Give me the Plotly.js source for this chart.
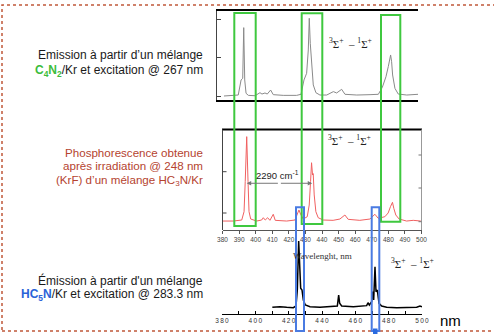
<!DOCTYPE html>
<html>
<head>
<meta charset="utf-8">
<script src="https://cdn.plot.ly/plotly-3.0.1.min.js"></script>
<style>html,body{margin:0;padding:0;background:#fff;}#chart{width:494px;height:334px;}</style>
</head>
<body>
<div id="chart"></div>
<script>
// ---- data (wavelength in nm, intensity in arbitrary units 0-100) ----
const topWave = [380.9,384.5,389.5,391.2,392.2,392.8,393.4,394.2,395.6,399.6,402.6,403.8,405.6,407.0,409.0,410.6,416.6,424.7,427.3,429.1,430.7,431.7,432.3,432.9,433.7,434.7,436.3,438.7,442.8,446.8,448.8,451.8,453.8,460.9,468.9,473.9,476.3,478.5,479.9,481.3,481.9,482.5,483.9,485.9,491.0,495.0,497.8];
const topInt  = [4.5,4.8,5.6,22.5,24.3,81.3,22.5,7.5,5.2,4.8,8.2,6.7,7.9,6.7,11.2,6.0,5.2,5.2,6.4,22.5,30.0,56.2,91.8,63.7,37.5,16.9,8.2,5.6,5.6,9.4,7.9,12.0,6.4,5.6,6.0,6.4,14.2,26.2,37.5,50.6,43.0,28.1,13.1,6.7,5.6,6.4,6.4];

const midWave = [380.1,386.5,391.6,393.0,393.7,394.6,395.4,396.0,397.0,400.6,403.6,404.6,405.8,407.2,408.6,410.6,411.8,418.7,423.7,425.1,426.1,427.1,428.7,431.1,432.3,433.1,433.7,434.3,434.7,435.3,436.3,437.7,440.7,446.7,450.8,453.8,455.8,462.8,468.9,471.9,473.9,477.9,479.9,481.3,482.5,483.3,484.5,486.5,491.0,495.0,499.6];
const midInt  = [8.9,8.9,9.9,18.2,48.0,92.7,48.0,18.2,10.9,8.9,9.9,12.2,9.9,12.2,9.6,15.6,9.6,8.9,9.9,15.6,19.9,15.6,10.9,13.2,24.8,48.0,66.8,54.6,56.0,34.8,18.2,12.2,9.9,9.6,10.9,14.9,10.6,9.6,10.9,15.6,11.6,13.2,16.9,23.2,27.5,21.5,14.9,10.9,8.9,9.6,8.9];

const botWave = [410.2,414.8,418.8,422.8,424.4,425.2,426.0,426.6,427.2,428.0,428.8,430.0,432.8,438.8,444.8,449.2,450.0,450.6,451.8,458.8,466.8,467.6,468.4,469.8,470.4,471.0,471.8,472.4,473.2,474.2,475.8,478.8,484.8,490.8,496.8,498.8,500.0];
const botInt  = [8.6,9.4,8.6,8.1,10.3,30.8,93.6,56.0,33.0,30.8,18.0,11.5,9.4,8.6,9.4,10.3,24.4,13.7,10.3,9.4,10.7,14.5,11.5,15.8,28.6,18.0,60.6,28.6,30.8,13.7,10.3,8.6,8.1,8.1,8.6,10.3,9.4];

const midTickVals = [380,390,400,410,420,430,440,450,460,470,480,490,500];
const midTickText = ['380','390','400','410','420','430','440','450','460','470','480','490','500'];
const botTickVals = [380,400,420,440,460,480,500];
const botTickText = ['3\u20098\u20090','4\u20090\u20090','4\u20092\u20090','4\u20094\u20090','4\u20096\u20090','4\u20098\u20090','5\u20090\u20090'];
const botMinorVals = [390,410,430,450,470,490];

// ---- layout helpers (pixel -> paper) ----
const W = 494, H = 334;
const px = x => x / W;
const py = y => 1 - y / H;

const traces = [
  {x: topWave, y: topInt, xaxis: 'x', yaxis: 'y', type: 'scatter', mode: 'lines',
   line: {color: '#8a8a8a', width: 1}, hoverinfo: 'skip'},
  {x: midWave, y: midInt, xaxis: 'x2', yaxis: 'y3', type: 'scatter', mode: 'lines',
   line: {color: '#f06060', width: 1}, hoverinfo: 'skip'},
  {x: botWave, y: botInt, xaxis: 'x3', yaxis: 'y5', type: 'scatter', mode: 'lines',
   line: {color: '#000000', width: 1.5}, hoverinfo: 'skip'}
];

const noAx = {showgrid: false, zeroline: false};

function rect(x0, y0, x1, y1, color, w) {
  return {type: 'rect', xref: 'paper', yref: 'paper', x0: px(x0), x1: px(x1), y0: py(y1), y1: py(y0),
          line: {color: color, width: w}, fillcolor: 'rgba(0,0,0,0)', layer: 'above'};
}
function seg(x0, y0, x1, y1, color, w) {
  return {type: 'line', xref: 'paper', yref: 'paper', x0: px(x0), x1: px(x1), y0: py(y0), y1: py(y1),
          line: {color: color, width: w}, layer: 'above'};
}

const green = '#3fc83f', blue = '#4a7be2';
const shapes = [
  {type: 'rect', xref: 'paper', yref: 'paper', x0: px(2), x1: px(530), y0: py(331), y1: py(5),
   line: {color: '#c0583a', width: 1.5, dash: 'dot'}, fillcolor: 'rgba(0,0,0,0)', layer: 'below'},
  // middle panel frame: thick top, thin left/right
  seg(222, 129.5, 422, 129.5, '#000', 2),
  seg(222.5, 129.5, 222.5, 230, '#444', 1),
  seg(421.5, 129.5, 421.5, 230, '#999', 1),
  // middle panel inner ticks (left / right)
  seg(222.5, 171.7, 226.5, 171.7, '#444', 1),
  seg(222.5, 213, 226.5, 213, '#444', 1),
  seg(418.5, 155, 421.5, 155, '#777', 1),
  seg(418.5, 188, 421.5, 188, '#777', 1),
  seg(418.5, 221.7, 421.5, 221.7, '#777', 1),
  rect(234.3, 13, 255.7, 226, green, 2),
  rect(301.7, 13.3, 322.3, 224, green, 2),
  rect(381, 15, 400.3, 221.7, green, 2),
  rect(296, 207.3, 304, 331, blue, 2),
  rect(371.7, 207.3, 379.3, 331, blue, 2),
  {type: 'rect', xref: 'paper', yref: 'paper', x0: px(373), x1: px(377.5), y0: py(334), y1: py(328.5),
   line: {width: 0}, fillcolor: '#2a6be0', layer: 'above'}
];

const sans = 'Liberation Sans, Arial, sans-serif';
const serif = 'Liberation Serif, Times New Roman, serif';
function txt(x, y, text, size, color, anchor, family) {
  return {xref: 'paper', yref: 'paper', x: px(x), y: py(y), text: text, showarrow: false,
          xanchor: anchor || 'right', yanchor: 'middle',
          font: {family: family || sans, size: size, color: color}};
}
const sigma = '<sup>3</sup>Σ<sup>+</sup>  – <sup>1</sup>Σ<sup>+</sup>';

const annotations = [
  txt(204.5, 55, 'Emission à partir d’un mélange', 12, '#1a1a1a'),
  txt(204.5, 71.5, '<span style="color:#3cbc3c"><b>C<sub>4</sub>N<sub>2</sub></b></span>/Kr et excitation @ 267 nm', 12, '#1a1a1a'),
  txt(204.5, 152.3, 'Phosphorescence obtenue', 11.6, '#b5432f'),
  txt(204.5, 165.7, 'après irradiation @ 248 nm', 11.6, '#b5432f'),
  txt(204.5, 180.8, '(KrF) d’un mélange HC<sub>3</sub>N/Kr', 11.6, '#b5432f'),
  txt(204.5, 280.7, 'Émission à partir d\'un mélange', 12, '#1a1a1a'),
  txt(204.5, 294.8, '<span style="color:#2a62d8"><b>HC<sub>5</sub>N</b></span>/Kr et excitation @ 283.3 nm', 12, '#1a1a1a'),
  txt(350, 43.3, sigma, 11, '#222', 'center', serif),
  txt(349.3, 140, sigma, 11, '#222', 'center', serif),
  txt(412.5, 263.3, sigma, 11, '#222', 'center', serif),
  txt(322.5, 255.7, 'Wavelenght, nm', 9, '#333', 'center', serif),
  txt(277.8, 175, '2290 cm<sup>-1</sup>', 9.5, '#222', 'center'),
  txt(450, 320.7, 'nm', 15, '#000', 'center'),
  {xref: 'x2', yref: 'y3', x: 394.6, y: 46.4, ax: 414.3, ay: 46.4, axref: 'x2', ayref: 'y3',
   text: '', showarrow: true, arrowhead: 2, arrowsize: 0.9, arrowwidth: 1, arrowcolor: '#777'},
  {xref: 'x2', yref: 'y3', x: 434.1, y: 46.4, ax: 414.3, ay: 46.4, axref: 'x2', ayref: 'y3',
   text: '', showarrow: true, arrowhead: 2, arrowsize: 0.9, arrowwidth: 1, arrowcolor: '#777'}
];

const layout = {
  width: W, height: H, autosize: false,
  margin: {l: 0, r: 0, t: 0, b: 0, pad: 0},
  paper_bgcolor: '#fff', plot_bgcolor: 'rgba(0,0,0,0)',
  showlegend: false,
  xaxis: Object.assign({domain: [px(217), px(418)], range: [376.7, 497.8], anchor: 'y',
    showline: true, linecolor: '#000', linewidth: 2, mirror: true, ticks: '', showticklabels: false}, noAx),
  yaxis: Object.assign({domain: [py(100), py(11)], range: [0, 100], anchor: 'x',
    showline: true, linecolor: '#444', linewidth: 1, ticks: 'inside', ticklen: 4, tickcolor: '#444',
    tickmode: 'array', tickvals: [3.4, 47.2, 89.9], showticklabels: false}, noAx),
  yaxis2: Object.assign({overlaying: 'y', side: 'right', anchor: 'x', range: [0, 100],
    showline: true, linecolor: '#999', linewidth: 1, ticks: 'inside', ticklen: 3, tickcolor: '#777',
    tickmode: 'array', tickvals: [13.5, 47.2, 80.9], showticklabels: false}, noAx),
  xaxis2: Object.assign({domain: [px(222.5), px(421.5)], range: [380, 500], anchor: 'y3',
    showline: true, linecolor: '#555', linewidth: 1, ticks: 'outside', ticklen: 3, tickcolor: '#555',
    tickmode: 'array', tickvals: midTickVals, ticktext: midTickText,
    tickfont: {family: sans, size: 6.5, color: '#444'}}, noAx),
  yaxis3: Object.assign({domain: [py(230), py(129.3)], range: [0, 100], anchor: 'x2',
    showline: false, ticks: '', showticklabels: false}, noAx),
  xaxis3: Object.assign({domain: [px(222), px(422)], range: [380, 500], anchor: 'y5',
    showline: true, linecolor: '#000', linewidth: 1, ticks: 'inside', ticklen: 3, tickcolor: '#000',
    tickmode: 'array', tickvals: botTickVals, ticktext: botTickText,
    minor: {tickmode: 'array', tickvals: botMinorVals, ticks: 'inside', ticklen: 3, tickcolor: '#000', showgrid: false},
    tickfont: {family: sans, size: 6.5, color: '#333'}}, noAx),
  yaxis5: Object.assign({domain: [py(314), py(236)], range: [0, 100], anchor: 'x3', visible: false}, noAx),
  shapes: shapes,
  annotations: annotations
};

Plotly.newPlot('chart', traces, layout, {displayModeBar: false, staticPlot: true});
</script>
</body>
</html>
